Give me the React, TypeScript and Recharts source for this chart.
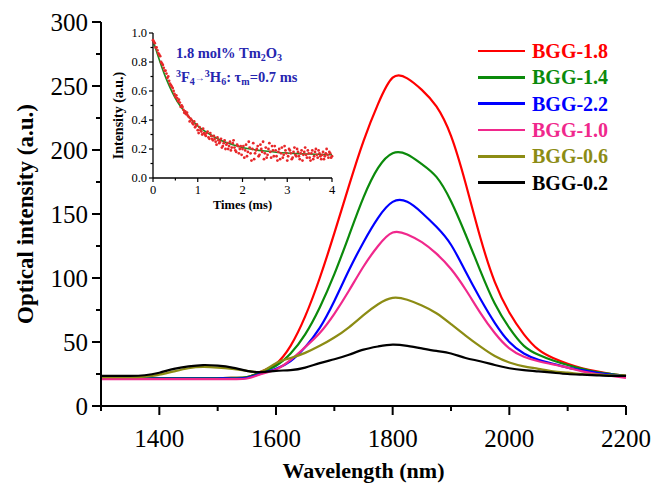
import React from "react";
import { LineChart, ComposedChart, Line, Scatter, XAxis, YAxis, Legend, Label } from "recharts";

const serif = "'Liberation Serif', 'Times New Roman', serif";

// emission spectra (a.u.)
const wavelengths = [1300, 1325, 1350, 1375, 1400, 1425, 1450, 1475, 1500, 1525, 1550, 1575, 1600, 1625, 1650, 1675, 1700, 1725, 1750, 1775, 1800, 1825, 1850, 1875, 1900, 1925, 1950, 1975, 2000, 2025, 2050, 2075, 2100, 2125, 2150, 2175, 2200];
const bgg18 = [22, 22, 22, 22, 21.8, 21.8, 21.8, 21.8, 21.8, 22, 22.5, 27, 33, 47, 70, 100, 135, 172, 207, 236, 256.5, 256, 247, 234, 211, 174, 132, 97, 73, 56, 44, 37.5, 33, 29.5, 27, 25, 23.5];
const bgg14 = [22, 22, 22, 22, 21.8, 21.8, 21.8, 21.8, 21.8, 22, 22.5, 26.5, 31.5, 41, 56, 77, 103, 133, 163, 186, 197.5, 196.5, 189, 179, 160, 134, 106, 80, 61, 47, 40, 35.5, 32, 29, 26.5, 25, 23.5];
const bgg22 = [21.5, 21.5, 21.5, 21.5, 21.5, 21.5, 21.5, 21.5, 21.5, 21.5, 22, 25.5, 29, 35, 46, 61, 82, 106, 128, 147, 159.5, 159.5, 151, 140, 126, 105, 84, 65, 50, 41, 36, 33, 30, 28, 26, 24.5, 23];
const bgg10 = [21, 21, 21, 21, 21, 21, 21, 21, 21, 21, 21.5, 25, 28.5, 36, 46, 57, 72, 90, 109, 125, 135.5, 134, 128, 119, 107, 91, 73, 57, 45, 38.5, 35, 32.5, 30, 27, 25, 23.5, 22];
const bgg06 = [22.5, 22.5, 22.5, 23, 24.5, 27, 29.5, 30.5, 30, 29, 27.5, 27, 33.5, 37.5, 41.5, 47, 53.5, 61.5, 71, 79.5, 84.5, 83, 78.5, 72.5, 64, 55, 46.5, 39, 34, 31, 29, 27, 26, 25, 24.5, 24, 23.5];
const bgg02 = [23.5, 23.5, 23.5, 24, 26, 29, 31, 32, 31.5, 30, 27.5, 26.5, 27.5, 28, 30, 33.5, 36.5, 40, 44, 46.5, 48, 47, 45, 43, 41, 37.5, 35, 32, 29.5, 28, 27, 26, 25, 24.5, 24, 23.5, 23.5];

const seriesNames = ["BGG-1.8", "BGG-1.4", "BGG-2.2", "BGG-1.0", "BGG-0.6", "BGG-0.2"];
const seriesColors = ["#ff0000", "#0b8a0b", "#0000ff", "#f0288c", "#8c8c14", "#000000"];
const seriesValues = [bgg18, bgg14, bgg22, bgg10, bgg06, bgg02];

const xTicks = [1300, 1400, 1500, 1600, 1700, 1800, 1900, 2000, 2100, 2200];
const xLabels = [1400, 1600, 1800, 2000, 2200];
const yTicks = [0, 25, 50, 75, 100, 125, 150, 175, 200, 225, 250, 275, 300];
const yLabels = [0, 50, 100, 150, 200, 250, 300];

// decay curve of the inset (ms, normalised intensity)
const decayTimes = [0, 0.02, 0.04, 0.06, 0.08, 0.1, 0.12, 0.14, 0.16, 0.18, 0.2, 0.22, 0.24, 0.26, 0.28, 0.3, 0.32, 0.34, 0.36, 0.38, 0.4, 0.42, 0.44, 0.46, 0.48, 0.5, 0.52, 0.54, 0.56, 0.58, 0.6, 0.62, 0.64, 0.66, 0.68, 0.7, 0.72, 0.74, 0.76, 0.78, 0.8, 0.82, 0.84, 0.86, 0.88, 0.9, 0.92, 0.94, 0.96, 0.98, 1, 1.02, 1.04, 1.06, 1.08, 1.1, 1.12, 1.14, 1.16, 1.18, 1.2, 1.22, 1.24, 1.26, 1.28, 1.3, 1.32, 1.34, 1.36, 1.38, 1.4, 1.42, 1.44, 1.46, 1.48, 1.5, 1.52, 1.54, 1.56, 1.58, 1.6, 1.62, 1.64, 1.66, 1.68, 1.7, 1.72, 1.74, 1.76, 1.78, 1.8, 1.82, 1.84, 1.86, 1.88, 1.9, 1.92, 1.94, 1.96, 1.98, 2, 2.02, 2.04, 2.06, 2.08, 2.1, 2.12, 2.14, 2.16, 2.18, 2.2, 2.22, 2.24, 2.26, 2.28, 2.3, 2.32, 2.34, 2.36, 2.38, 2.4, 2.42, 2.44, 2.46, 2.48, 2.5, 2.52, 2.54, 2.56, 2.58, 2.6, 2.62, 2.64, 2.66, 2.68, 2.7, 2.72, 2.74, 2.76, 2.78, 2.8, 2.82, 2.84, 2.86, 2.88, 2.9, 2.92, 2.94, 2.96, 2.98, 3, 3.02, 3.04, 3.06, 3.08, 3.1, 3.12, 3.14, 3.16, 3.18, 3.2, 3.22, 3.24, 3.26, 3.28, 3.3, 3.32, 3.34, 3.36, 3.38, 3.4, 3.42, 3.44, 3.46, 3.48, 3.5, 3.52, 3.54, 3.56, 3.58, 3.6, 3.62, 3.64, 3.66, 3.68, 3.7, 3.72, 3.74, 3.76, 3.78, 3.8, 3.82, 3.84, 3.86, 3.88, 3.9, 3.92, 3.94, 3.96, 3.98, 4];
const decayIntensity = [0.95, 0.94, 0.93, 0.9, 0.9, 0.88, 0.86, 0.85, 0.84, 0.8, 0.79, 0.78, 0.76, 0.74, 0.74, 0.72, 0.69, 0.7, 0.67, 0.65, 0.64, 0.63, 0.62, 0.6, 0.58, 0.56, 0.57, 0.55, 0.53, 0.54, 0.52, 0.49, 0.5, 0.49, 0.47, 0.45, 0.46, 0.44, 0.45, 0.43, 0.42, 0.39, 0.41, 0.4, 0.38, 0.37, 0.39, 0.35, 0.36, 0.37, 0.33, 0.31, 0.35, 0.33, 0.32, 0.3, 0.34, 0.31, 0.3, 0.29, 0.31, 0.32, 0.28, 0.27, 0.31, 0.29, 0.27, 0.26, 0.29, 0.27, 0.25, 0.23, 0.28, 0.26, 0.24, 0.25, 0.27, 0.21, 0.22, 0.24, 0.26, 0.2, 0.23, 0.24, 0.2, 0.22, 0.25, 0.19, 0.21, 0.24, 0.26, 0.21, 0.19, 0.18, 0.23, 0.22, 0.17, 0.2, 0.22, 0.16, 0.2, 0.22, 0.14, 0.19, 0.23, 0.15, 0.18, 0.25, 0.21, 0.17, 0.12, 0.2, 0.24, 0.13, 0.17, 0.19, 0.2, 0.22, 0.15, 0.16, 0.23, 0.2, 0.18, 0.25, 0.13, 0.17, 0.21, 0.14, 0.16, 0.2, 0.24, 0.18, 0.14, 0.22, 0.19, 0.15, 0.22, 0.19, 0.15, 0.12, 0.18, 0.2, 0.13, 0.17, 0.21, 0.14, 0.16, 0.22, 0.19, 0.17, 0.12, 0.15, 0.2, 0.19, 0.17, 0.13, 0.14, 0.18, 0.21, 0.16, 0.15, 0.2, 0.18, 0.15, 0.13, 0.17, 0.19, 0.12, 0.16, 0.18, 0.21, 0.16, 0.14, 0.19, 0.17, 0.14, 0.12, 0.17, 0.19, 0.13, 0.15, 0.18, 0.2, 0.16, 0.14, 0.19, 0.17, 0.15, 0.13, 0.16, 0.18, 0.13, 0.15, 0.17, 0.2, 0.16, 0.14, 0.18, 0.17, 0.14, 0.15];
const fitTimes = [0, 0.25, 0.5, 0.75, 1, 1.25, 1.5, 1.75, 2, 2.25, 2.5, 2.75, 3, 3.25, 3.5, 3.75, 4];
const fitIntensity = [0.95, 0.72, 0.55, 0.44, 0.36, 0.305, 0.262, 0.232, 0.21, 0.196, 0.186, 0.178, 0.172, 0.168, 0.165, 0.162, 0.16];
const insetXTicks = [0, 0.5, 1, 1.5, 2, 2.5, 3, 3.5, 4];
const insetXLabels = [0, 1, 2, 3, 4];
const insetYTicks = [0, 0.1, 0.2, 0.3, 0.4, 0.5, 0.6, 0.7, 0.8, 0.9, 1];
const insetYLabels = [0, 0.2, 0.4, 0.6, 0.8, 1];

const spectrumData = wavelengths.map((w, i) => {
  const row: Record<string, number> = { wavelength: w };
  seriesNames.forEach((n, k) => (row[n] = seriesValues[k][i]));
  return row;
});
const decayData = decayTimes.map((t, i) => ({ t, v: decayIntensity[i] }));
const fitData = fitTimes.map((t, i) => ({ t, v: fitIntensity[i] }));

const MainXTick = (props: any) => {
  const { x, y, payload } = props;
  const major = xLabels.includes(payload.value);
  return (
    <g>
      <line x1={x} y1={y} x2={x} y2={y + (major ? 9 : 5)} stroke="#000" strokeWidth={2} />
      {major && (
        <text x={x} y={y + 41} textAnchor="middle" fontSize={25} fontFamily={serif} fill="#000">
          {payload.value}
        </text>
      )}
    </g>
  );
};

const MainYTick = (props: any) => {
  const { x, y, payload } = props;
  const major = yLabels.includes(payload.value);
  return (
    <g>
      <line x1={x - (major ? 9 : 5)} y1={y} x2={x} y2={y} stroke="#000" strokeWidth={2} />
      {major && (
        <text x={x - 13} y={y + 8.5} textAnchor="end" fontSize={25} fontFamily={serif} fill="#000">
          {payload.value}
        </text>
      )}
    </g>
  );
};

const InsetXTick = (props: any) => {
  const { x, y, payload } = props;
  const major = insetXLabels.includes(payload.value);
  return (
    <g>
      <line x1={x} y1={y} x2={x} y2={y + (major ? 4 : 2.5)} stroke="#000" strokeWidth={1.2} />
      {major && (
        <text x={x} y={y + 16} textAnchor="middle" fontSize={12.5} fontFamily={serif} fill="#000">
          {payload.value}
        </text>
      )}
    </g>
  );
};

const InsetYTick = (props: any) => {
  const { x, y, payload } = props;
  const major = insetYLabels.some((v) => Math.abs(v - payload.value) < 1e-6);
  return (
    <g>
      <line x1={x - (major ? 4 : 2.5)} y1={y} x2={x} y2={y} stroke="#000" strokeWidth={1.2} />
      {major && (
        <text x={x - 6} y={y + 4.3} textAnchor="end" fontSize={12.5} fontFamily={serif} fill="#000">
          {Number(payload.value).toFixed(1)}
        </text>
      )}
    </g>
  );
};

// legend keeps the order of the figure, not the sorted payload
const renderLegend = () => (
  <div>
    {seriesNames.map((n, k) => (
      <div key={n} style={{ display: "flex", alignItems: "center", height: 26.3 }}>
        <span style={{ display: "inline-block", width: 47, height: 2.5, background: seriesColors[k] }} />
        <span style={{ marginLeft: 7, color: seriesColors[k], fontWeight: "bold", fontSize: 20, fontFamily: serif, lineHeight: "20px" }}>
          {n}
        </span>
      </div>
    ))}
  </div>
);

const annotColor = "#2626b0";

export default function App() {
  return (
    <div style={{ position: "absolute", left: 0, top: 0, width: 654, height: 492, background: "#fff" }}>
      <LineChart width={654} height={492} data={spectrumData} margin={{ top: 22, right: 28, bottom: 6, left: 0 }}>
        <XAxis
          dataKey="wavelength"
          type="number"
          domain={[1300, 2200]}
          ticks={xTicks}
          interval={0}
          tick={<MainXTick />}
          tickLine={false}
          tickSize={0}
          tickMargin={0}
          height={80}
          axisLine={{ stroke: "#000", strokeWidth: 2 }}
        >
          <Label
            content={(p: any) => (
              <text x={p.viewBox.x + p.viewBox.width / 2} y={p.viewBox.y + 72} textAnchor="middle" fontSize={22} fontWeight="bold" fontFamily={serif} fill="#000">
                Wavelength (nm)
              </text>
            )}
          />
        </XAxis>
        <XAxis xAxisId="top" orientation="top" type="number" domain={[1300, 2200]} tick={false} tickLine={false} height={0} axisLine={{ stroke: "#000", strokeWidth: 2 }} />
        <YAxis
          type="number"
          domain={[0, 300]}
          ticks={yTicks}
          interval={0}
          tick={<MainYTick />}
          tickLine={false}
          tickSize={0}
          tickMargin={0}
          width={101}
          axisLine={{ stroke: "#000", strokeWidth: 2 }}
        >
          <Label
            content={(p: any) => {
              const cx = p.viewBox.x + 25;
              const cy = p.viewBox.y + p.viewBox.height / 2;
              return (
                <text x={cx} y={cy} transform={`rotate(-90 ${cx} ${cy})`} textAnchor="middle" dominantBaseline="central" fontSize={23} fontWeight="bold" fontFamily={serif} fill="#000">
                  Optical intensity (a.u.)
                </text>
              );
            }}
          />
        </YAxis>
        <YAxis yAxisId="right" orientation="right" type="number" domain={[0, 300]} tick={false} tickLine={false} width={0} axisLine={{ stroke: "#000", strokeWidth: 2 }} />
        <Legend layout="vertical" align="center" verticalAlign="middle" wrapperStyle={{ left: 478, top: 38, width: 150 }} content={renderLegend} />
        {seriesNames.map((n, k) => (
          <Line key={n} type="natural" dataKey={n} name={n} stroke={seriesColors[k]} strokeWidth={2.2} dot={false} isAnimationActive={false} />
        ))}
      </LineChart>

      <div style={{ position: "absolute", left: 103, top: 23, width: 236, height: 200 }}>
        <ComposedChart width={236} height={200} data={fitData} margin={{ top: 10, right: 7, bottom: 0, left: 0 }}>
          <XAxis
            dataKey="t"
            type="number"
            domain={[0, 4]}
            ticks={insetXTicks}
            interval={0}
            tick={<InsetXTick />}
            tickLine={false}
            tickSize={0}
            tickMargin={0}
            height={45}
            axisLine={{ stroke: "#000", strokeWidth: 1.3 }}
          >
            <Label
              content={(p: any) => (
                <text x={p.viewBox.x + p.viewBox.width / 2} y={p.viewBox.y + 31} textAnchor="middle" fontSize={12.5} fontWeight="bold" fontFamily={serif} fill="#000">
                  Times (ms)
                </text>
              )}
            />
          </XAxis>
          <XAxis xAxisId="top" orientation="top" type="number" domain={[0, 4]} tick={false} tickLine={false} height={0} axisLine={{ stroke: "#000", strokeWidth: 1.3 }} />
          <YAxis
            dataKey="v"
            type="number"
            domain={[0, 1]}
            ticks={insetYTicks}
            interval={0}
            tick={<InsetYTick />}
            tickLine={false}
            tickSize={0}
            tickMargin={0}
            width={50}
            axisLine={{ stroke: "#000", strokeWidth: 1.3 }}
          >
            <Label
              content={(p: any) => {
                const cx = p.viewBox.x + 15;
                const cy = p.viewBox.y + p.viewBox.height / 2 + 10;
                return (
                  <text x={cx} y={cy} transform={`rotate(-90 ${cx} ${cy})`} textAnchor="middle" dominantBaseline="central" fontSize={14} fontWeight="bold" fontFamily={serif} fill="#000">
                    Intensity (a.u.)
                  </text>
                );
              }}
            />
          </YAxis>
          <YAxis yAxisId="right" orientation="right" type="number" domain={[0, 1]} tick={false} tickLine={false} width={0} axisLine={{ stroke: "#000", strokeWidth: 1.3 }} />
          <Scatter
            data={decayData}
            dataKey="v"
            fill="#e8282a"
            isAnimationActive={false}
            shape={(p: any) => <circle cx={p.cx} cy={p.cy} r={1.4} fill="#e8282a" />}
          />
          <Line type="monotone" dataKey="v" stroke="#1f8a1f" strokeWidth={1.6} dot={false} isAnimationActive={false} />
        </ComposedChart>
      </div>

      <svg width={654} height={492} style={{ position: "absolute", left: 0, top: 0, pointerEvents: "none" }}>
        <text x={176} y={58} fontSize={14.5} fontWeight="bold" fontFamily={serif} fill={annotColor}>
          1.8 mol% Tm<tspan fontSize={10} dy={3}>2</tspan>
          <tspan dy={-3}>O</tspan>
          <tspan fontSize={10} dy={3}>3</tspan>
        </text>
        <text x={176} y={82} fontSize={14.5} fontWeight="bold" fontFamily={serif} fill={annotColor}>
          <tspan fontSize={10} dy={-5}>3</tspan>
          <tspan dy={5}>F</tspan>
          <tspan fontSize={10} dy={3}>4</tspan>
          <tspan fontSize={10} dy={-4}>→</tspan>
          <tspan fontSize={10} dy={-4}>3</tspan>
          <tspan dy={5}>H</tspan>
          <tspan fontSize={10} dy={3}>6</tspan>
          <tspan dy={-3}>: τ</tspan>
          <tspan fontSize={10} dy={3}>m</tspan>
          <tspan dy={-3}>=0.7 ms</tspan>
        </text>
      </svg>
    </div>
  );
}
